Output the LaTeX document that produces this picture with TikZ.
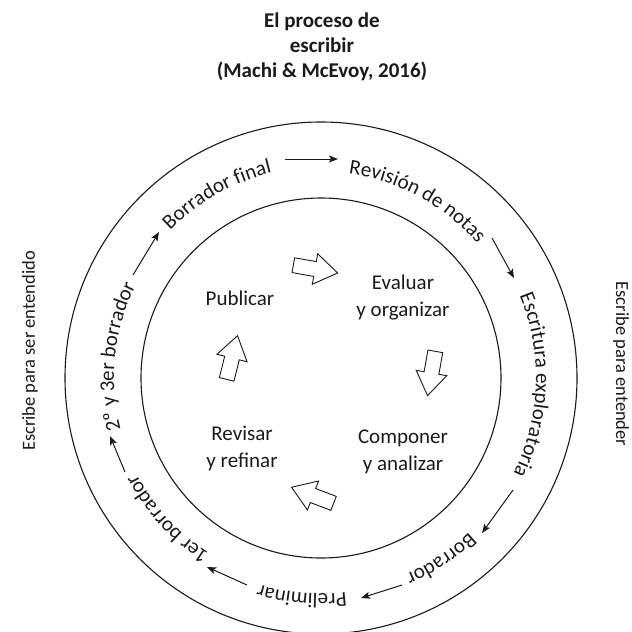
\documentclass[tikz,border=0pt]{standalone}
\usepackage{fontspec}
\setmainfont{Carlito}
\usetikzlibrary{arrows.meta,decorations.text}

\definecolor{ink}{HTML}{1A1A1A}
\newcommand{\ringfont}{\fontsize{21}{25}\selectfont}

% text set along a clockwise arc round C, tops of the letters outward
\newcommand{\ringlabel}[3]{%
  \path[decorate,decoration={text along path,text align=center,
        text={|\ringfont\color{ink}|#3}}]
    ([shift={(#1+50:#2)}]C) arc[start angle=#1+50, end angle=#1-50, radius=#2];}

\begin{document}
\begin{tikzpicture}[x=1pt,y=1pt,
  ringline/.style={draw=ink,line width=1.1pt},
  flow/.style={draw=ink,line width=1pt,-{Stealth[length=9pt,width=7pt,inset=2pt]}},
  lbl/.style={text=ink,align=center,font=\fontsize{21}{27}\selectfont,inner sep=0pt},
  heading/.style={text=ink,align=center,font=\fontsize{21}{25}\selectfont\bfseries,inner sep=0pt},
  sidelbl/.style={text=ink,font=\fontsize{18.5}{22}\selectfont,inner sep=0pt},
  blockarrow/.style={draw=ink,line width=0.9pt,fill=white,line join=miter}]

\useasboundingbox (0,0) rectangle (632,-632);
\coordinate (C) at (321,-378);

% title
\node[heading] (title) at (322,-47) {El proceso de\\escribir\\(Machi \& McEvoy, 2016)};

% the two rings
\draw[ringline] (C) circle[radius=256];
\draw[ringline] (C) circle[radius=180];

% side captions
\node[sidelbl,rotate=90] (left) at (30,-351) {Escribe para ser entendido};
\node[sidelbl,rotate=-90] (right) at (621,-364) {Escribe para entender};

% stages along the outer ring
\ringlabel{119.5}{211}{Borrador final}
\ringlabel{61.5}{206}{Revisión de notas}
\ringlabel{-2}{215}{Escritura exploratoria}
\ringlabel{-56.5}{214}{Borrador}
\ringlabel{-95}{216}{Preliminar}
\ringlabel{-137.5}{208}{1er borrador}
\ringlabel{174}{207}{2º y 3er borrador}

% arrows between the stages
\coordinate (r1a) at (285,-159);  \coordinate (r1b) at (338,-159);
\coordinate (r2a) at (492,-238);  \coordinate (r2b) at (514,-278);
\coordinate (r3a) at (513,-490);  \coordinate (r3b) at (482,-533);
\coordinate (r4a) at (402,-585);  \coordinate (r4b) at (361,-598);
\coordinate (r5a) at (247,-585);  \coordinate (r5b) at (207,-567);
\coordinate (r6a) at (125,-472);  \coordinate (r6b) at (110,-436);
\coordinate (r7a) at (133,-275);  \coordinate (r7b) at (159,-232);
\foreach \i in {1,...,7} \draw[flow] (r\i a) -- (r\i b);

% inner cycle
\node[lbl] (pub) at (240,-298) {Publicar};
\node[lbl] (eva) at (403,-298) {Evaluar\\y organizar};
\node[lbl] (com) at (403,-452) {Componer\\y analizar};
\node[lbl] (rev) at (242,-448) {Revisar\\y refinar};

% hollow block arrows between the inner steps
\foreach \x/\y/\a in {315/-269/-10, 431.5/-373/-100, 313/-495.5/159, 232/-358/76}
  \draw[blockarrow,shift={(\x,\y)},rotate=\a]
    (-22,-7.5) -- (0,-7.5) -- (0,-15.5) -- (23,0) -- (0,15.5) -- (0,7.5) -- (-22,7.5) -- cycle;

\end{tikzpicture}
\end{document}
